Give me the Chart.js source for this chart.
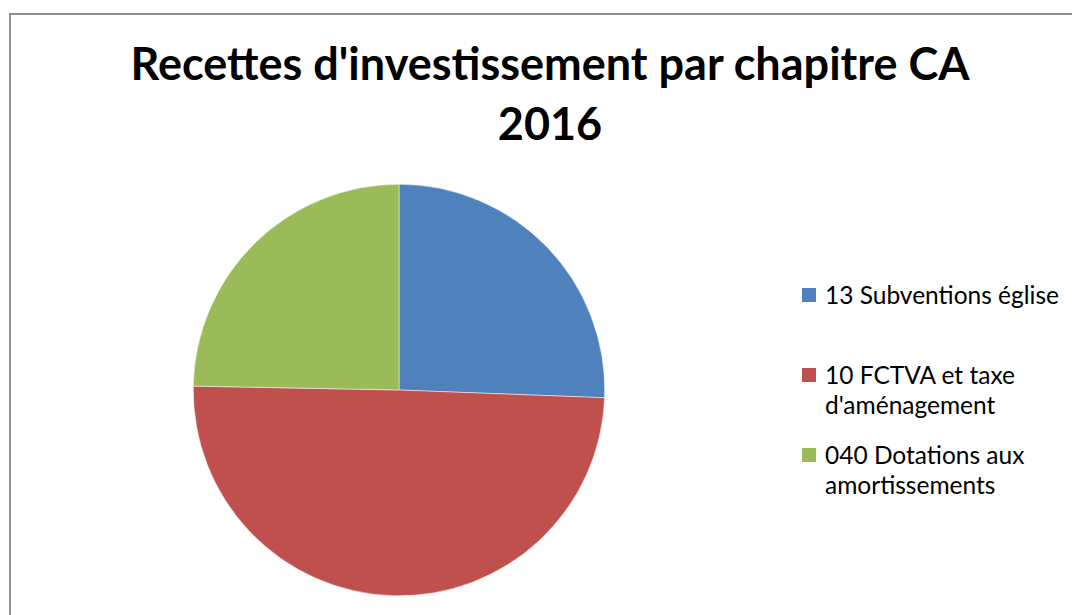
<!DOCTYPE html>
<html>
<head>
<meta charset="utf-8">
<script src="https://cdn.jsdelivr.net/npm/chart.js@4"></script>
<style>
    html, body { margin: 0; padding: 0; background: #fff; overflow: hidden; }
    body { width: 1072px; height: 615px; position: relative; font-family: Lato, 'Open Sans', sans-serif; }
    .frame { position: absolute; left: 9px; top: 13px; width: 1100px; height: 700px; border: 2px solid #8e8e8e; box-sizing: border-box; }
    .title { position: absolute; left: 0; top: 33px; width: 1100px; text-align: center; font-weight: bold; font-size: 45px; line-height: 60px; color: #000; }
    #pie-wrap { position: absolute; left: 193px; top: 184px; width: 412px; height: 412px; }
    #legend { position: absolute; left: 802px; top: 280px; width: 268px; }
    .legend-item { position: relative; height: 80px; padding-left: 23px; font-size: 24.5px; line-height: 30px; color: #000; }
    .legend-box { position: absolute; left: 0; top: 8px; width: 14px; height: 14px; }
</style>
</head>
<body>
<div class="frame"></div>
<div class="title" id="chart-title"></div>
<div id="pie-wrap"><canvas id="pie-chart" width="412" height="412"></canvas></div>
<div id="legend"></div>

<script>
// Chart data
const titleLines = ["Recettes d'investissement par chapitre CA", '2016'];
const categories = ['13 Subventions église', "10 FCTVA et taxe d'aménagement", '040 Dotations aux amortissements'];
const values = [25.6, 49.7, 24.7];
const colors = ['#4f81bd', '#c0504d', '#9bbb59'];

// Title
document.getElementById('chart-title').innerHTML = titleLines.join('<br>');

// Legend
document.getElementById('legend').innerHTML = categories.map((label, i) => `
    <div class="legend-item">
        <span class="legend-box" style="background:${colors[i]}"></span>${label}
    </div>
`).join('');

// Pie
new Chart(document.getElementById('pie-chart'), {
    type: 'pie',
    data: {
        labels: categories,
        datasets: [{
            data: values,
            backgroundColor: colors,
            borderColor: '#ffffff',
            borderWidth: 0.5
        }]
    },
    options: {
        responsive: false,
        animation: false,
        layout: { padding: 0 },
        plugins: {
            legend: { display: false },
            title: { display: false },
            tooltip: { enabled: false }
        }
    }
});
</script>
</body>
</html>
